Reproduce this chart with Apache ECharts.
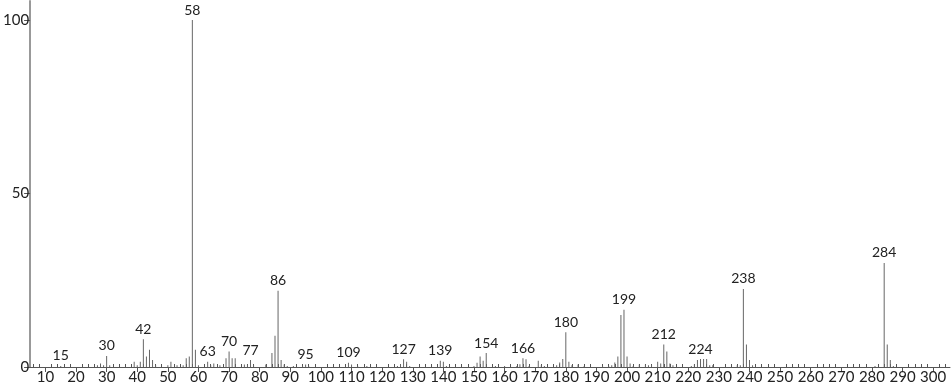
<!DOCTYPE html>
<html>
<head>
<meta charset="utf-8">
<script src="https://cdn.jsdelivr.net/npm/echarts@6/dist/echarts.min.js"></script>
<style>html,body{margin:0;padding:0;background:#fff}#c{width:951px;height:389px}</style>
</head>
<body>
<div id="c"></div>
<script>
const mz = [15,27,28,29,30,31,39,40,41,42,43,44,45,46,50,51,53,55,56,57,58,59,60,63,64,65,67,69,70,71,72,75,76,77,78,82,84,85,86,87,88,89,91,94,95,96,109,110,112,115,125,126,127,128,129,139,140,141,150,151,152,153,154,157,160,164,165,166,167,168,171,172,173,177,178,179,180,181,182,184,186,192,194,195,196,197,198,199,200,201,202,204,206,207,208,210,211,212,213,214,215,221,222,223,224,225,226,227,228,236,237,238,239,240,241,281,284,285,286,287];
const intensity = [0.3,0.5,1,0.5,3.2,0.5,1.5,0.5,1.5,8,3,5,2,0.5,0.5,1.5,0.5,0.5,2.5,3,100,5,0.5,1.5,0.5,1,0.5,2.5,4.5,2.5,2.5,0.7,0.7,2,0.5,0.7,4,9,22,2,0.7,0.3,0.3,0.3,0.7,0.3,1.2,0.7,0.3,0.3,0.3,0.8,2.2,1.5,0.3,1.8,1.5,0.3,0.3,1.2,3,1.8,4,0.3,0.3,0.3,0.8,2.5,2.2,0.3,1.8,0.5,0.3,0.5,1.3,2.3,10,1.5,0.5,0.7,0.3,0.3,0.3,0.5,1.3,3,15,16.5,3,1,0.3,0.7,0.7,0.5,0.5,1.5,1,6.5,4.5,1,0.5,0.3,0.8,2,2.3,2.3,2.3,0.5,0.5,0.5,0.5,22.5,6.5,2,0.5,0.3,30,6.5,2,0.3];
const labeledPeaks = [15,30,42,58,63,70,77,86,95,109,127,139,154,166,180,199,212,224,238,284];
const xTickLabels = [10,20,30,40,50,60,70,80,90,100,110,120,130,140,150,160,170,180,190,200,210,220,230,240,250,260,270,280,290,300];
const xMinorTicks = [];
for (let v = 6; v <= 304; v += 2) if (v % 10 !== 0) xMinorTicks.push(v);
const yTickLabels = [0,50,100];

const FONT = 'Lato';
const data = mz.map((m, i) => ({
  value: [m, intensity[i]],
  label: { show: labeledPeaks.includes(m) }
}));

const chart = echarts.init(document.getElementById('c'), null, {renderer: 'canvas'});
chart.setOption({
  animation: false,
  grid: { left: 29, right: 1, top: 1, bottom: 22, containLabel: false },
  xAxis: [{
    type: 'value', min: 5, max: 305.5,
    axisLine: { show: true, lineStyle: { color: '#555', width: 1 } },
    axisTick: { show: true, length: 5, lineStyle: { color: '#555' }, customValues: xTickLabels },
    axisLabel: { show: true, customValues: xTickLabels, color: '#222', fontSize: 15, fontFamily: FONT, margin: 3 },
    splitLine: { show: false }
  }, {
    type: 'value', min: 5, max: 305.5, position: 'bottom',
    axisLine: { show: false },
    axisTick: { show: true, inside: true, length: 3, lineStyle: { color: '#555' }, customValues: xMinorTicks },
    axisLabel: { show: false },
    splitLine: { show: false }
  }],
  yAxis: {
    type: 'value', min: 0, max: 105.5,
    axisLine: { show: true, lineStyle: { color: '#999', width: 2 } },
    axisTick: { show: true, length: 6, lineStyle: { color: '#555' }, customValues: yTickLabels },
    axisLabel: { show: true, customValues: yTickLabels, color: '#222', fontSize: 15, fontFamily: FONT, margin: 1 },
    splitLine: { show: false }
  },
  series: [{
    type: 'bar',
    xAxisIndex: 0,
    barWidth: 1,
    itemStyle: { color: '#666' },
    label: {
      position: 'top', distance: 3, color: '#222', fontSize: 14, fontFamily: FONT,
      formatter: p => String(p.value[0])
    },
    data: data
  }]
});
</script>
</body>
</html>
